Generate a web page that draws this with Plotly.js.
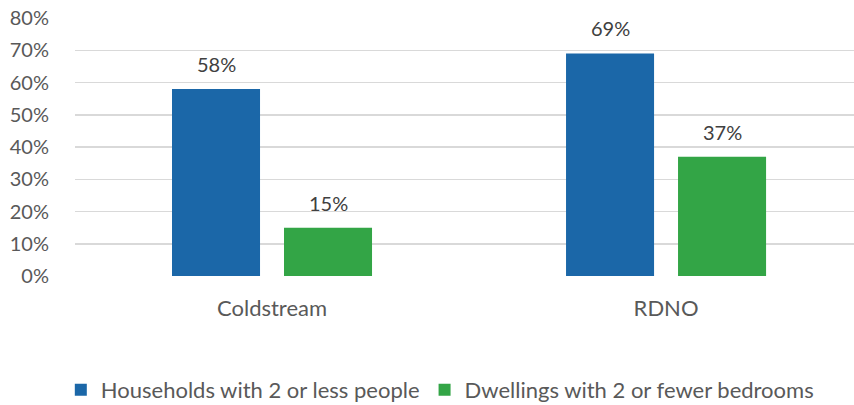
<!DOCTYPE html>
<html>
<head>
<meta charset="utf-8">
<script src="https://cdn.plot.ly/plotly-3.0.1.min.js"></script>
<style>html,body{margin:0;padding:0;background:#fff;}#chart{width:854px;height:405px;}</style>
</head>
<body>
<div id="chart"></div>
<script>
const categories = ["Coldstream", "RDNO"];
const seriesNames = ["Households with 2 or less people", "Dwellings with 2 or fewer bedrooms"];
const households = [0.58, 0.69];
const dwellings = [0.15, 0.37];
const labelsHouseholds = ["58%", "69%"];
const labelsDwellings = ["15%", "37%"];
const yTickVals = [0, 0.1, 0.2, 0.3, 0.4, 0.5, 0.6, 0.7, 0.8];
const yTickText = ["0%", "10%", "20%", "30%", "40%", "50%", "60%", "70%", "80%"];

const FONT = "Lato, 'Open Sans', sans-serif";
const blue = "#1b67a8";
const green = "#33a546";

const traces = [
  {type: "bar", name: seriesNames[0], x: categories, y: households, marker: {color: blue}, hoverinfo: "none"},
  {type: "bar", name: seriesNames[1], x: categories, y: dwellings, marker: {color: green}, hoverinfo: "none"}
];

const annotations = [];
const shifts = [-56, 56];
[[households, labelsHouseholds], [dwellings, labelsDwellings]].forEach(([vals, labs], s) => {
  vals.forEach((v, i) => {
    annotations.push({
      x: categories[i], y: v, xref: "x", yref: "y", text: labs[i],
      showarrow: false, xshift: shifts[s], yanchor: "bottom", yshift: 11,
      font: {family: FONT, size: 20, color: "#404040"}
    });
  });
});

const layout = {
  width: 854, height: 405,
  margin: {l: 75, r: 0, t: 18, b: 129, pad: 0},
  paper_bgcolor: "#ffffff", plot_bgcolor: "#ffffff",
  barmode: "group", bargap: 0.4315, bargroupgap: 0.214,
  font: {family: FONT, size: 20, color: "#595959"},
  xaxis: {
    type: "category", range: [-0.5, 1.477], showgrid: false, zeroline: false, showline: false,
    automargin: false,
    ticks: "outside", ticklen: 13, tickcolor: "rgba(0,0,0,0)",
    tickfont: {family: FONT, size: 22, color: "#595959"}
  },
  yaxis: {
    range: [0, 0.8], tickvals: yTickVals, ticktext: yTickText,
    showgrid: true, gridcolor: "#d9d9d9", gridwidth: 1.5, zeroline: false, showline: false,
    automargin: false,
    ticks: "outside", ticklen: 21, tickcolor: "rgba(0,0,0,0)",
    tickfont: {family: FONT, size: 20, color: "#595959"}
  },
  showlegend: true,
  legend: {
    orientation: "h", x: 0.515, xanchor: "center", xref: "container",
    y: 0.037, yanchor: "middle", yref: "container",
    font: {family: FONT, size: 22, color: "#595959"}, itemwidth: 30, tracegroupgap: 0
  },
  annotations: annotations
};

Plotly.newPlot("chart", traces, layout, {displayModeBar: false, staticPlot: true});
</script>
</body>
</html>
